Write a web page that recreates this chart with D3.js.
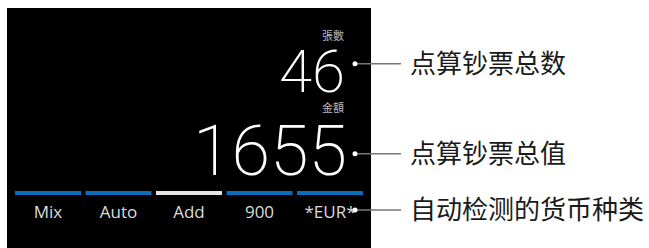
<!DOCTYPE html>
<html><head><meta charset="utf-8">
<script src="https://cdn.jsdelivr.net/npm/d3@7"></script>
<style>html,body{margin:0;padding:0;background:#fff;}</style>
</head><body>
<script>
const modes = ["Mix", "Auto", "Add", "900", "*EUR*"];
const activeMode = ["Add"];
const countLabel = "張數";
const countValue = [46];
const amountLabel = "金額";
const amountValue = [1655];
const annotations = ["点算钞票总数", "点算钞票总值", "自动检测的货币种类"];

const W = 649, H = 248;
const svg = d3.select("body").append("svg").attr("width", W).attr("height", H);

svg.append("rect").attr("x", 7).attr("y", 8).attr("width", 364).attr("height", 240).attr("fill", "#000");

const x = d3.scaleBand().domain(modes).range([15, 363]).paddingInner(0.064).paddingOuter(0);

svg.selectAll("rect.bar").data(modes).enter().append("rect")
  .attr("class", "bar")
  .attr("x", d => x(d)).attr("y", 191).attr("width", x.bandwidth()).attr("height", 4)
  .attr("fill", d => activeMode.includes(d) ? "#e4e4e4" : "#0a6ebd");

svg.selectAll("text.mode").data(modes).enter().append("text")
  .attr("class", "mode")
  .attr("x", d => x(d) + x.bandwidth() / 2).attr("y", 218)
  .attr("text-anchor", "middle")
  .attr("font-family", "Open Sans, Noto Sans, sans-serif")
  .attr("font-size", 17).attr("fill", "#dcdcdc")
  .text(d => d);

// small labels
svg.append("text").attr("x", 344).attr("y", 40).attr("text-anchor", "end")
  .attr("font-family", "Noto Sans CJK TC").attr("font-size", 11).attr("fill", "#bbb").text(countLabel);
svg.append("text").attr("x", 344).attr("y", 112).attr("text-anchor", "end")
  .attr("font-family", "Noto Sans CJK TC").attr("font-size", 11).attr("fill", "#bbb").text(amountLabel);

svg.selectAll("text.count").data(countValue).enter().append("text").attr("class", "count")
  .attr("x", 345).attr("y", 92).attr("text-anchor", "end")
  .attr("font-family", "Roboto").attr("font-weight", 200).attr("font-size", 60).attr("fill", "#fff")
  .text(d => d);
svg.selectAll("text.amount").data(amountValue).enter().append("text").attr("class", "amount")
  .attr("x", 347).attr("y", 175).attr("text-anchor", "end")
  .attr("font-family", "Roboto").attr("font-weight", 200).attr("font-size", 70).attr("fill", "#fff")
  .text(d => d);

// annotations
const ays = [63.7, 153.7, 210];
const g = svg.selectAll("g.ann").data(annotations).enter().append("g").attr("class", "ann")
  .attr("transform", (d, i) => `translate(0,${ays[i]})`);
g.append("line").attr("x1", 355).attr("x2", 401).attr("y1", 0).attr("y2", 0)
  .attr("stroke", "#777").attr("stroke-width", 1.5);
g.append("circle").attr("cx", 355).attr("cy", 0).attr("r", 2.5).attr("fill", "#fff");
g.append("text").attr("x", 410).attr("y", 0).attr("dy", "0.36em")
  .attr("font-family", "Noto Sans CJK SC").attr("font-size", 26).attr("fill", "#1a1a1a")
  .text(d => d);
</script>
</body></html>
